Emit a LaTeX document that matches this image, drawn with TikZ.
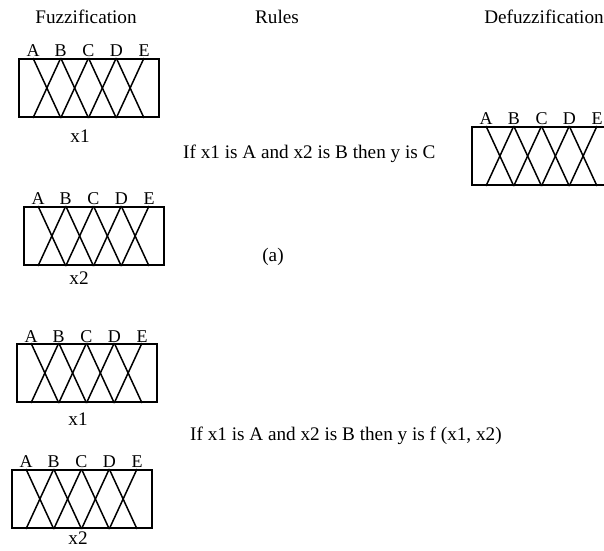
\documentclass[tikz,border=0pt]{standalone}
\usepackage{fontspec}
\setmainfont{Liberation Serif}
\newcommand{\txtfont}{\fontsize{19.2}{22}\selectfont}
\newcommand{\lblfont}{\fontsize{18}{21}\selectfont}
\tikzset{
  fzbox/.style={draw, line width=2pt, minimum width=140pt, minimum height=58pt,
    inner sep=0pt, anchor=north west},
  mfline/.style={line width=1.5pt},
  lbl/.style={font=\lblfont, anchor=base, inner sep=0pt},
  txt/.style={font=\txtfont, anchor=base, inner sep=0pt},
}
\newcommand{\fuzzyset}[2]{%
  \foreach \i in {0,1,2,3}{%
    \pgfmathsetmacro{\xa}{15+27.75*\i}%
    \pgfmathsetmacro{\xb}{15+27.75*(\i+1)}%
    \draw[mfline] ([xshift=\xa pt]#1.north west) -- ([xshift=\xb pt]#1.south west);
    \draw[mfline] ([xshift=\xa pt]#1.south west) -- ([xshift=\xb pt]#1.north west);
  }%
  \foreach \L [count=\j from 0] in {A,B,C,D,E}{%
    \pgfmathsetmacro{\xl}{15+27.75*\j}%
    \node[lbl] (#1\L) at ([xshift=\xl pt, yshift=#2]#1.north west) {\L};
  }%
}
\begin{document}
\begin{tikzpicture}[x=1pt, y=-1pt]
\useasboundingbox (0,0) rectangle (604,550);
\clip (0,0) rectangle (604,550);
% titles
\node[txt] (tfuzz) at (86,23) {Fuzzification};
\node[txt] (trules) at (277,23) {Rules};
\node[txt] (tdefuzz) at (544,23) {Defuzzification};
% (a) part
\node[fzbox] (b1) at (18,58) {};
\fuzzyset{b1}{2pt}
\node[txt] (b1x) at (80,142) {x1};
\node[fzbox] (b2) at (23,206) {};
\fuzzyset{b2}{2pt}
\node[txt] (b2x) at (79,284) {x2};
\node[fzbox] (bd) at (471,126) {};
\fuzzyset{bd}{2pt}
\node[txt, anchor=base west] (rule1) at (183,158) {If x1 is A and x2 is B then y is C};
\node[txt] (lbla) at (273,261) {(a)};
% second part
\node[fzbox] (b3) at (16,343) {};
\fuzzyset{b3}{0.5pt}
\node[txt] (b3x) at (78,425) {x1};
\node[fzbox] (b4) at (11,469) {};
\fuzzyset{b4}{2pt}
\node[txt] (b4x) at (78,544) {x2};
\node[txt, anchor=base west] (rule2) at (190,440) {If x1 is A and x2 is B then y is f (x1, x2)};
\end{tikzpicture}
\end{document}
